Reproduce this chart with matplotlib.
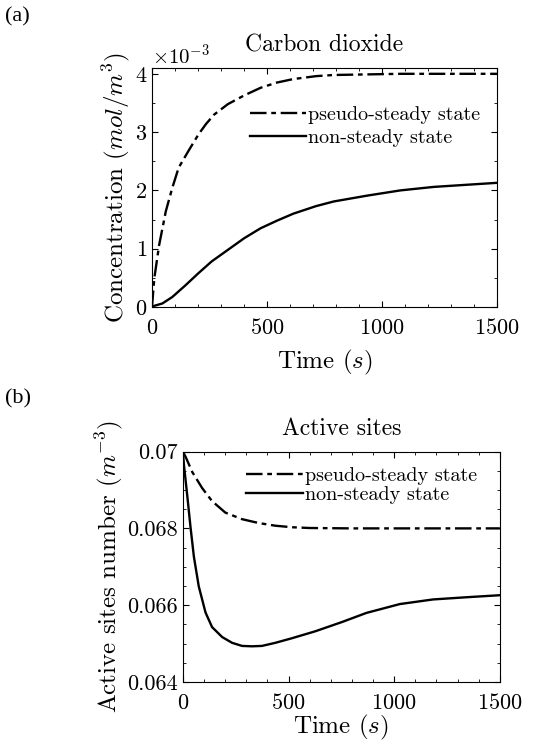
import matplotlib
matplotlib.use("Agg")
import matplotlib.pyplot as plt
from matplotlib.ticker import MultipleLocator, ScalarFormatter

plt.rcParams["font.family"] = "serif"
plt.rcParams["font.serif"] = ["cmr10"]
plt.rcParams["mathtext.fontset"] = "cm"
plt.rcParams["axes.formatter.use_mathtext"] = True
plt.rcParams["axes.unicode_minus"] = False

# (a) carbon dioxide concentration, values in 1e-3 mol/m^3
t_co2 = [0, 10, 31, 60, 88, 116, 159, 202, 235, 270, 330, 401, 472, 543, 614, 713, 790, 935, 1080, 1225, 1500]
co2_pseudo = [0, 0.49, 1.06, 1.64, 2.04, 2.39, 2.68, 2.96, 3.14, 3.30, 3.48, 3.63, 3.76, 3.85, 3.91, 3.96,
              3.98, 3.99, 4.0, 4.0, 4.0]
t_co2_n = [0, 10, 45, 88, 145, 202, 259, 330, 401, 472, 543, 614, 713, 790, 935, 1080, 1225, 1500]
co2_non = [0, 0.02, 0.06, 0.17, 0.37, 0.58, 0.78, 0.98, 1.18, 1.35, 1.48, 1.60, 1.73, 1.81, 1.91,
           2.0, 2.06, 2.13]

# (b) active sites number
t_sites = [0, 13, 44, 91, 138, 201, 280, 358, 437, 516, 600, 800, 1000, 1200, 1500]
sites_pseudo = [0.0700, 0.06986, 0.06947, 0.06905, 0.06871, 0.06841, 0.06824, 0.06814, 0.06807,
                0.06803, 0.06801, 0.06800, 0.06800, 0.06800, 0.06800]
t_sites_n = [0, 5, 20, 36, 52, 75, 107, 138, 186, 233, 280, 327, 374, 437, 516, 626, 752, 869,
             1027, 1184, 1350, 1500]
sites_non = [0.0700, 0.06964, 0.06888, 0.06803, 0.06726, 0.06649, 0.06581, 0.06543, 0.06517,
             0.06502, 0.06494, 0.06493, 0.06494, 0.06502, 0.06514, 0.06532, 0.06556, 0.06580,
             0.06603, 0.06615, 0.06621, 0.06626]

fig = plt.figure(figsize=(5.38, 7.48), dpi=100)
ax1 = fig.add_axes([0.2825, 0.5896, 0.6413, 0.3195])
ax2 = fig.add_axes([0.340, 0.0882, 0.589, 0.3081])

dd = (7, 2, 2, 2)
ax1.plot(t_co2, [v * 1e-3 for v in co2_pseudo], color="black", lw=1.7, dashes=dd, label="pseudo-steady state")
ax1.plot(t_co2_n, [v * 1e-3 for v in co2_non], color="black", lw=1.7, label="non-steady state")
ax1.set_xlim(0, 1500)
ax1.set_ylim(0, 4.1e-3)
ax1.set_yticks([0, 1e-3, 2e-3, 3e-3, 4e-3])
fmt = ScalarFormatter(useMathText=True)
fmt.set_powerlimits((-2, 2))
ax1.yaxis.set_major_formatter(fmt)
ax1.yaxis.set_minor_locator(MultipleLocator(0.5e-3))
ax1.set_title("Carbon dioxide", fontsize=17, pad=12)
ax1.set_ylabel(r"Concentration $(mol/m^3)$", fontsize=18, labelpad=2)
ax1.set_xlabel(r"Time $(s)$", fontsize=18, labelpad=7)
ax1.legend(loc="upper right", bbox_to_anchor=(0.951, 0.841), frameon=False, fontsize=14.5,
           handlelength=2.8, handletextpad=0.1, labelspacing=0.25, borderaxespad=0, borderpad=0)

ax2.plot(t_sites, sites_pseudo, color="black", lw=1.7, dashes=dd, label="pseudo-steady state")
ax2.plot(t_sites_n, sites_non, color="black", lw=1.7, label="non-steady state")
ax2.set_xlim(0, 1500)
ax2.set_ylim(0.064, 0.070)
ax2.set_yticks([0.064, 0.066, 0.068, 0.070])
ax2.set_yticklabels(["0.064", "0.066", "0.068", "0.07"])
ax2.yaxis.set_minor_locator(MultipleLocator(0.0005))
ax2.set_title("Active sites", fontsize=17, pad=12)
ax2.set_ylabel(r"Active sites number $(m^{-3})$", fontsize=18, labelpad=2)
ax2.set_xlabel(r"Time $(s)$", fontsize=18, labelpad=0)
ax2.legend(loc="upper right", bbox_to_anchor=(0.927, 0.935), frameon=False, fontsize=14.5,
           handlelength=2.8, handletextpad=0.1, labelspacing=0.05, borderaxespad=0, borderpad=0)

for ax in (ax1, ax2):
    ax.set_xticks([0, 500, 1000, 1500])
    ax.xaxis.set_minor_locator(MultipleLocator(100))
    ax.tick_params(which="both", direction="in", top=True, right=True, labelsize=16)
    ax.tick_params(axis="x", pad=8)
    ax.tick_params(which="major", length=4)
    ax.tick_params(which="minor", length=2)
    ax.yaxis.get_offset_text().set_fontsize(15)

fig.text(0.01, 0.99, "(a)", fontsize=16, family="Liberation Serif", va="top")
fig.text(0.01, 0.48, "(b)", fontsize=16, family="Liberation Serif", va="top")

fig.savefig("out.png", dpi=100)
